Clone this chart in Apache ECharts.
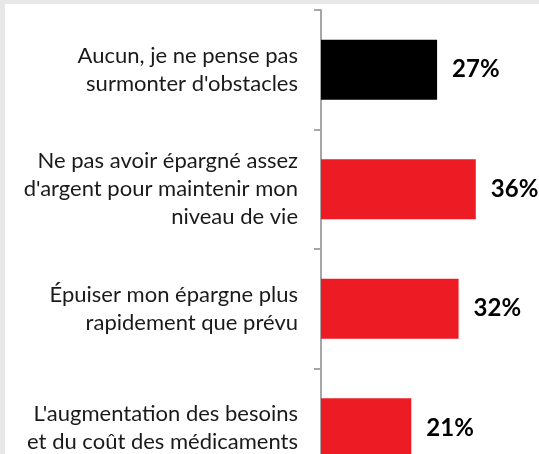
<!DOCTYPE html>
<html>
<head>
<meta charset="utf-8">
<script src="https://cdn.jsdelivr.net/npm/echarts@6/dist/echarts.min.js"></script>
<style>
    html, body {
        margin: 0;
        padding: 0;
        background: #e8e8e8;
    }
    #main {
        position: absolute;
        left: 5px;
        top: 4px;
        width: 534px;
        height: 450px;
        background: #ffffff;
    }
</style>
</head>
<body>
<div id="main"></div>
<script>
    // catégories (de haut en bas) et valeurs en %
    var categories = [
        ['Aucun, je ne pense pas', "surmonter d'obstacles"],
        ['Ne pas avoir épargné assez', "d'argent pour maintenir mon", 'niveau de vie'],
        ['Épuiser mon épargne plus', 'rapidement que prévu'],
        ["L'augmentation des besoins", 'et du coût des médicaments']
    ];
    var values = [27, 36, 32, 21];
    var barColors = ['#000000', '#ed1c24', '#ed1c24', '#ed1c24'];

    var catFont = 22;

    // lignes centrées dans chaque bloc : on mesure et on pousse avec un padding gauche
    var ctx = document.createElement('canvas').getContext('2d');
    ctx.font = catFont + 'px Lato';
    var rich = {};
    var labels = categories.map(function (lines, i) {
        var widths = lines.map(function (s) { return ctx.measureText(s).width; });
        var maxW = Math.max.apply(null, widths);
        return lines.map(function (s, j) {
            var key = 'l' + i + '_' + j;
            rich[key] = {
                fontFamily: 'Lato',
                fontSize: catFont,
                lineHeight: 28,
                color: '#1a1a1a',
                padding: [0, 0, 0, (maxW - widths[j]) / 2]
            };
            return '{' + key + '|' + s + '}';
        }).join('\n');
    });

    var myChart = echarts.init(document.getElementById('main'));
    var option = {
        animation: false,
        textStyle: {fontFamily: 'Lato'},
        grid: {
            left: 316,
            top: 6,
            width: 172,
            height: 478,
            containLabel: false,
            outerBoundsMode: 'none'
        },
        xAxis: {
            type: 'value',
            min: 0,
            max: 40,
            show: false
        },
        yAxis: {
            type: 'category',
            inverse: true,
            data: labels,
            axisLine: {show: true, lineStyle: {color: '#a6a6a6', width: 2}},
            axisTick: {show: true, length: 7, lineStyle: {color: '#a6a6a6', width: 2}},
            axisLabel: {
                margin: 23,
                align: 'right',
                rich: rich
            }
        },
        series: [
            {
                type: 'bar',
                barWidth: 60,
                data: values.map(function (v, i) {
                    return {value: v, itemStyle: {color: barColors[i]}};
                }),
                label: {
                    show: true,
                    position: 'right',
                    distance: 15,
                    formatter: '{c}%',
                    fontFamily: 'Lato',
                    fontWeight: 'bold',
                    fontSize: 24,
                    color: '#000000'
                }
            }
        ]
    };
    myChart.setOption(option, true);
</script>
</body>
</html>
